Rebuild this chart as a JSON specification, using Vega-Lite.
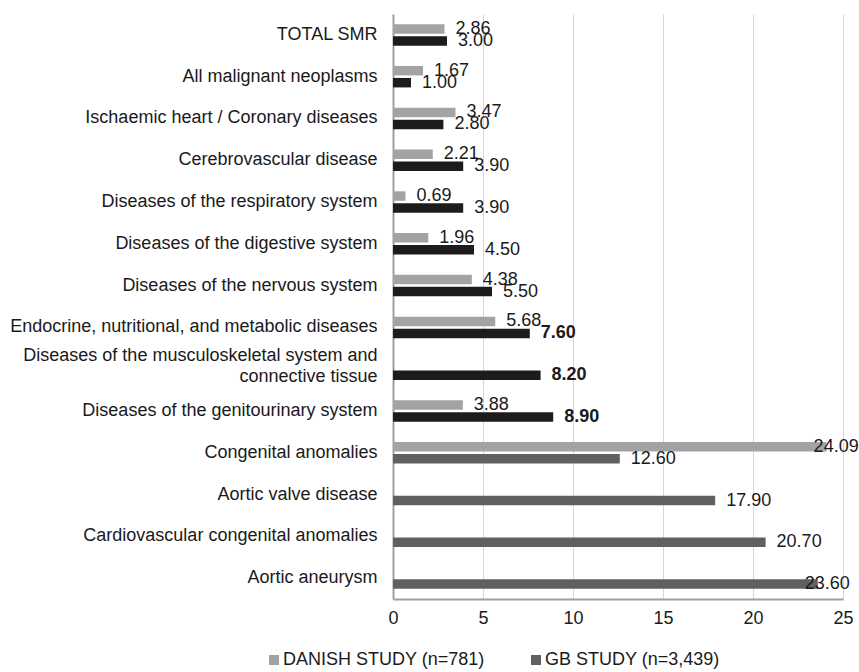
{
  "$schema": "https://vega.github.io/schema/vega-lite/v6.json",
  "width": 450,
  "height": 585,
  "autosize": {"type": "none"},
  "padding": {"left": 393, "top": 14, "right": 16, "bottom": 73},
  "background": "white",
  "config": {
    "view": {"stroke": null},
    "font": "Liberation Sans",
    "text": {"font": "Liberation Sans"}
  },
  "data": {
    "values": [
      {"cause": "TOTAL SMR", "study": "DANISH STUDY (n=781)", "smr": 2.86},
      {"cause": "TOTAL SMR", "study": "GB STUDY (n=3,439)", "smr": 3.00},
      {"cause": "All malignant neoplasms", "study": "DANISH STUDY (n=781)", "smr": 1.67},
      {"cause": "All malignant neoplasms", "study": "GB STUDY (n=3,439)", "smr": 1.00},
      {"cause": "Ischaemic heart / Coronary diseases", "study": "DANISH STUDY (n=781)", "smr": 3.47},
      {"cause": "Ischaemic heart / Coronary diseases", "study": "GB STUDY (n=3,439)", "smr": 2.80},
      {"cause": "Cerebrovascular disease", "study": "DANISH STUDY (n=781)", "smr": 2.21},
      {"cause": "Cerebrovascular disease", "study": "GB STUDY (n=3,439)", "smr": 3.90},
      {"cause": "Diseases of the respiratory system", "study": "DANISH STUDY (n=781)", "smr": 0.69},
      {"cause": "Diseases of the respiratory system", "study": "GB STUDY (n=3,439)", "smr": 3.90},
      {"cause": "Diseases of the digestive system", "study": "DANISH STUDY (n=781)", "smr": 1.96},
      {"cause": "Diseases of the digestive system", "study": "GB STUDY (n=3,439)", "smr": 4.50},
      {"cause": "Diseases of the nervous system", "study": "DANISH STUDY (n=781)", "smr": 4.38},
      {"cause": "Diseases of the nervous system", "study": "GB STUDY (n=3,439)", "smr": 5.50},
      {"cause": "Endocrine, nutritional, and metabolic diseases", "study": "DANISH STUDY (n=781)", "smr": 5.68},
      {"cause": "Endocrine, nutritional, and metabolic diseases", "study": "GB STUDY (n=3,439)", "smr": 7.60},
      {"cause": "Diseases of the musculoskeletal system and connective tissue", "study": "GB STUDY (n=3,439)", "smr": 8.20},
      {"cause": "Diseases of the genitourinary system", "study": "DANISH STUDY (n=781)", "smr": 3.88},
      {"cause": "Diseases of the genitourinary system", "study": "GB STUDY (n=3,439)", "smr": 8.90},
      {"cause": "Congenital anomalies", "study": "DANISH STUDY (n=781)", "smr": 24.09},
      {"cause": "Congenital anomalies", "study": "GB STUDY (n=3,439)", "smr": 12.60},
      {"cause": "Aortic valve disease", "study": "GB STUDY (n=3,439)", "smr": 17.90},
      {"cause": "Cardiovascular congenital anomalies", "study": "GB STUDY (n=3,439)", "smr": 20.70},
      {"cause": "Aortic aneurysm", "study": "GB STUDY (n=3,439)", "smr": 23.60}
    ]
  },
  "encoding": {
    "y": {
      "field": "cause",
      "type": "nominal",
      "sort": ["TOTAL SMR", "All malignant neoplasms", "Ischaemic heart / Coronary diseases", "Cerebrovascular disease", "Diseases of the respiratory system", "Diseases of the digestive system", "Diseases of the nervous system", "Endocrine, nutritional, and metabolic diseases", "Diseases of the musculoskeletal system and connective tissue", "Diseases of the genitourinary system", "Congenital anomalies", "Aortic valve disease", "Cardiovascular congenital anomalies", "Aortic aneurysm"],
      "scale": {"paddingInner": 0.486, "paddingOuter": 0.243},
      "axis": {
        "title": null,
        "labelFont": "Liberation Sans",
        "labelFontSize": 18,
        "labelColor": "#1a1a1a",
        "labelPadding": 16,
        "labelLimit": 600,
        "labelLineHeight": 21,
        "ticks": false,
        "grid": false,
        "domainColor": "#a0a0a0",
        "domainWidth": 2,
        "labelOffset": {"condition": {"test": "datum.value === 'Diseases of the musculoskeletal system and connective tissue'", "value": -13}, "value": 0},
        "labelExpr": "datum.value === 'Diseases of the musculoskeletal system and connective tissue' ? ['Diseases of the musculoskeletal system and', 'connective tissue'] : datum.value",
        "encode": {
          "labels": {
            "update": {
              "align": {"signal": "datum.value === 'Diseases of the musculoskeletal system and connective tissue' ? 'center' : 'right'"},
              "dx": {"signal": "datum.value === 'Diseases of the musculoskeletal system and connective tissue' ? -176 : 0"}
            }
          }
        }
      }
    },
    "yOffset": {
      "field": "study",
      "type": "nominal",
      "sort": ["DANISH STUDY (n=781)", "GB STUDY (n=3,439)"],
      "scale": {"domain": ["DANISH STUDY (n=781)", "GB STUDY (n=3,439)"], "paddingInner": 0.21, "paddingOuter": 0}
    },
    "x": {
      "field": "smr",
      "type": "quantitative",
      "scale": {"domain": [0, 25], "nice": false},
      "axis": {
        "title": null,
        "values": [0, 5, 10, 15, 20, 25],
        "labelFont": "Liberation Sans",
        "labelFontSize": 18,
        "labelColor": "#1a1a1a",
        "labelPadding": 10,
        "labelFlush": false,
        "ticks": false,
        "grid": true,
        "gridColor": "#d6d6d6",
        "gridWidth": 1,
        "domainColor": "#a0a0a0",
        "domainWidth": 2
      }
    }
  },
  "layer": [
    {
      "mark": {"type": "bar"},
      "encoding": {
        "color": {
          "condition": {
            "test": "datum.study === 'GB STUDY (n=3,439)' && indexof(['Congenital anomalies', 'Aortic valve disease', 'Cardiovascular congenital anomalies', 'Aortic aneurysm'], datum.cause) < 0",
            "value": "#1c1c1c"
          },
          "field": "study",
          "type": "nominal",
          "scale": {"domain": ["DANISH STUDY (n=781)", "GB STUDY (n=3,439)"], "range": ["#a3a3a3", "#606060"]},
          "legend": {
            "title": null,
            "orient": "none",
            "direction": "horizontal",
            "legendX": -128,
            "legendY": 637,
            "symbolType": "square",
            "symbolSize": 100,
            "symbolStrokeWidth": 0,
            "labelFont": "Liberation Sans",
            "labelFontSize": 18,
            "labelColor": "#1a1a1a",
            "labelOffset": 0,
            "labelLimit": 400,
            "columnPadding": 42
          }
        }
      }
    },
    {
      "transform": [
        {"filter": "datum.smr < 23 && !(datum.study === 'GB STUDY (n=3,439)' && indexof(['Endocrine, nutritional, and metabolic diseases', 'Diseases of the musculoskeletal system and connective tissue', 'Diseases of the genitourinary system'], datum.cause) >= 0)"}
      ],
      "mark": {"type": "text", "align": "left", "baseline": "middle", "dx": 11, "fontSize": 18, "font": "Liberation Sans", "color": "#1a1a1a"},
      "encoding": {"text": {"field": "smr", "type": "quantitative", "format": ".2f"}}
    },
    {
      "transform": [
        {"filter": "datum.study === 'GB STUDY (n=3,439)' && indexof(['Endocrine, nutritional, and metabolic diseases', 'Diseases of the musculoskeletal system and connective tissue', 'Diseases of the genitourinary system'], datum.cause) >= 0"}
      ],
      "mark": {"type": "text", "align": "left", "baseline": "middle", "dx": 11, "fontSize": 18, "fontWeight": "bold", "font": "Liberation Sans", "color": "#1a1a1a"},
      "encoding": {"text": {"field": "smr", "type": "quantitative", "format": ".2f"}}
    },
    {
      "transform": [{"filter": "datum.smr >= 23"}],
      "mark": {"type": "text", "align": "left", "baseline": "middle", "dx": -13, "fontSize": 18, "font": "Liberation Sans", "color": "#1a1a1a"},
      "encoding": {"text": {"field": "smr", "type": "quantitative", "format": ".2f"}}
    }
  ]
}
